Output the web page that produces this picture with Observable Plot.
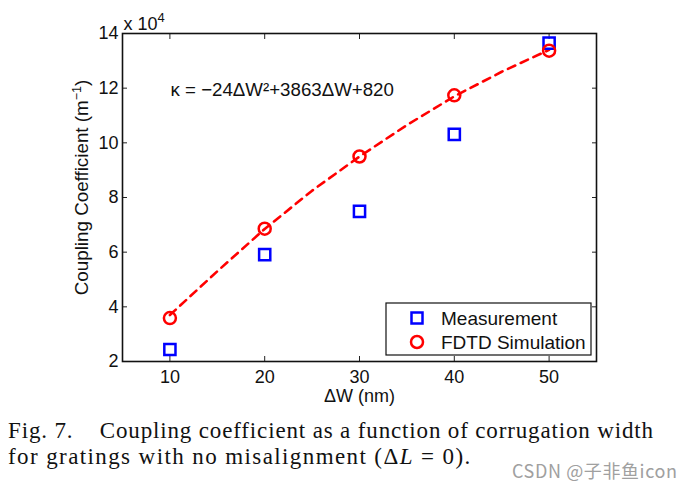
<!DOCTYPE html>
<html>
<head>
<meta charset="utf-8">
<script src="https://cdn.jsdelivr.net/npm/d3@7"></script>
<script src="https://cdn.jsdelivr.net/npm/@observablehq/plot@0.6"></script>
<style>
  html, body { margin: 0; padding: 0; background: #fff; }
  #wrap { position: relative; width: 694px; height: 494px; overflow: hidden; background: #fff; }
  #chart { position: absolute; left: 0; top: 0; }
  #caption { position: absolute; left: 8px; top: 418px; font-family: "Liberation Serif", "Times New Roman", serif; font-size: 23px; letter-spacing: 0.85px; line-height: 26px; color: #111; white-space: nowrap; }
  #caption .l2 { letter-spacing: 1.4px; }
  #wm { position: absolute; left: 512px; top: 457px; font-family: "Noto Sans CJK SC", "Liberation Sans", sans-serif; font-size: 18px; letter-spacing: 0.6px; color: #a0a0a0; white-space: nowrap; }
</style>
</head>
<body>
<div id="wrap">
  <div id="chart"></div>
  <div id="caption">Fig. 7.&nbsp;&nbsp;&nbsp; Coupling coefficient as a function of corrugation width<br><span class="l2">for gratings with no misalignment (Δ<i>L</i>&nbsp;=&nbsp;0).</span></div>
  <div id="wm">CSDN @子非鱼icon</div>
</div>
<script>
// ---- data ----
const widths = [10, 20, 30, 40, 50];                 // ΔW (nm)
const measurement = [2.44, 5.91, 7.49, 10.31, 13.65]; // ×10^4 m^-1
const fdtd = [3.59, 6.86, 9.50, 11.74, 13.37];        // ×10^4 m^-1
const fitW = [10, 15, 20, 25, 30, 35, 40, 45, 50];
const fitK = [3.70, 5.30, 6.85, 8.25, 9.50, 10.65, 11.70, 12.60, 13.40];
const xTicks = [10, 20, 30, 40, 50];
const yTicks = [2, 4, 6, 8, 10, 12, 14];
const seriesNames = ["Measurement", "FDTD Simulation"];
const xLabel = "ΔW (nm)";
const yLabel = "Coupling Coefficient (m";
const formula = "κ = −24ΔW²+3863ΔW+820";

const measData = widths.map((w, i) => ({w, k: measurement[i]}));
const fdtdData = widths.map((w, i) => ({w, k: fdtd[i]}));
const fitData = fitW.map((w, i) => ({w, k: fitK[i]}));

const FONT = "'Liberation Sans', Arial, Helvetica, sans-serif";

const plot = Plot.plot({
  width: 694,
  height: 410,
  marginLeft: 122,
  marginRight: 98,
  marginTop: 33,
  marginBottom: 49,
  style: {fontFamily: FONT, fontSize: "18px", color: "#000", background: "transparent", overflow: "visible"},
  x: {domain: [5, 55]},
  y: {domain: [2, 14]},
  marks: [
    Plot.axisX(xTicks, {anchor: "bottom", tickSize: -5, fill: "none", stroke: "#222"}),
    Plot.axisX(xTicks, {anchor: "top", tickSize: -5, fill: "none", stroke: "#222"}),
    Plot.axisY(yTicks, {anchor: "left", tickSize: -5, fill: "none", stroke: "#222"}),
    Plot.axisY(yTicks, {anchor: "right", tickSize: -5, fill: "none", stroke: "#222"}),
    Plot.axisX(xTicks, {anchor: "bottom", tickSize: 0, tickPadding: 9, label: null, fill: "#111"}),
    Plot.axisY(yTicks, {anchor: "left", tickSize: 0, tickPadding: 4, label: null, fill: "#111"}),
    Plot.frame({stroke: "#111", strokeWidth: 1.6}),
    Plot.line(fitData, {x: "w", y: "k", stroke: "#ff0000", strokeWidth: 2.6, strokeDasharray: "8,6"}),
    Plot.dot(measData, {x: "w", y: "k", symbol: "square", r: 6.3, stroke: "#0000ff", strokeWidth: 2.5, fill: "none"}),
    Plot.dot(fdtdData, {x: "w", y: "k", symbol: "circle", r: 6, stroke: "#ff0000", strokeWidth: 2.5, fill: "none"}),
    Plot.text([formula], {frameAnchor: "top-left", dx: 48, dy: 57, textAnchor: "start", lineAnchor: "middle", fill: "#111", fontSize: 18.7}),
    Plot.text([xLabel], {frameAnchor: "bottom", dy: 35, textAnchor: "middle", lineAnchor: "middle", fill: "#111", fontSize: 18}),
    Plot.text([yLabel], {frameAnchor: "left", dx: -41, dy: -10, rotate: -90, textAnchor: "middle", lineAnchor: "middle", fill: "#111", fontSize: 18.8, className: "ylab"}),
    Plot.text(["x 10"], {frameAnchor: "top-left", dx: 1, dy: -9, textAnchor: "start", lineAnchor: "middle", fill: "#111", fontSize: 18, className: "expo"})
  ]
});

document.getElementById("chart").appendChild(plot);

const svg = d3.select(plot);

// superscripts
svg.selectAll(".ylab text").each(function() {
  const t = d3.select(this);
  t.append("tspan").attr("font-size", 12.5).attr("dy", -7).text("−1");
  t.append("tspan").attr("dy", 7).text(")");
});
svg.selectAll(".expo text").each(function() {
  const t = d3.select(this);
  t.append("tspan").attr("font-size", 13).attr("dy", -8).text("4");
});

// legend (inside the plot frame, lower right)
const lg = svg.append("g").attr("font-family", FONT).attr("font-size", 19).attr("fill", "#111").attr("text-anchor", "start");
lg.append("rect").attr("x", 386).attr("y", 303).attr("width", 205).attr("height", 52)
  .attr("fill", "#fff").attr("stroke", "#111").attr("stroke-width", 1.2);
lg.append("rect").attr("x", 411.5).attr("y", 312.5).attr("width", 11).attr("height", 11)
  .attr("fill", "none").attr("stroke", "#0000ff").attr("stroke-width", 2.5);
lg.append("circle").attr("cx", 417).attr("cy", 342).attr("r", 6)
  .attr("fill", "none").attr("stroke", "#ff0000").attr("stroke-width", 2.5);
lg.append("text").attr("x", 441).attr("y", 324.5).attr("text-anchor", "start").text(seriesNames[0]);
lg.append("text").attr("x", 441).attr("y", 349).attr("text-anchor", "start").text(seriesNames[1]);
</script>
</body>
</html>
